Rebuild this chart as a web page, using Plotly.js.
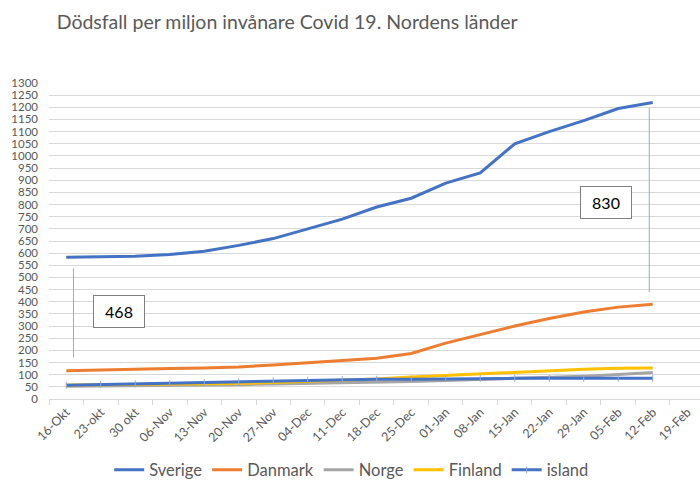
<!DOCTYPE html>
<html>
<head>
<meta charset="utf-8">
<script src="https://cdn.plot.ly/plotly-3.0.1.min.js"></script>
<style>html,body{margin:0;padding:0;background:#fff}#chart{width:700px;height:492px}</style>
</head>
<body>
<div id="chart"></div>
<script>
const categories = ["16-Okt","23-okt","30 okt","06-Nov","13-Nov","20-Nov","27-Nov","04-Dec","11-Dec","18-Dec","25-Dec","01-Jan","08-Jan","15-Jan","22-Jan","29-Jan","05-Feb","12-Feb","19-Feb"];
const sverige = [583,585,587,594,608,632,660,700,740,790,826,888,930,1050,1100,1145,1195,1220];
const danmark = [116,118,122,125,128,132,140,148,158,168,187,230,266,300,331,358,378,390];
const norge   = [52,53,54,55,57,59,62,64,66,68,72,76,80,83,88,94,101,109];
const finland = [58,59,60,61,62,64,68,72,77,82,91,97,105,110,118,122,126,128];
const island  = [57,60,62,64,67,70,74,77,80,81,81,83,85,85,85,85,85,85];
const noteLeft = {label:"468", x:1.54, y:358, lineX:0.21, y0:172, y1:537};
const noteRight = {label:"830", x:15.65, y:810, lineX:16.9, y0:440, y1:1198};

const font = "Lato, 'Noto Sans', sans-serif";
const gray = "#595959";
const xs = categories.slice(0, sverige.length);

function tr(name, y, color, extra) {
  return Object.assign({type:"scatter", mode:"lines", name:name, x:xs, y:y,
    line:{color:color, width:3}}, extra || {});
}
const data = [
  tr("Sverige", sverige, "#4472C4"),
  tr("Danmark", danmark, "#ED7D31"),
  tr("Norge", norge, "#A5A5A5"),
  tr("Finland", finland, "#FFC000"),
  tr("island", island, "#4472C4", {mode:"lines+markers", marker:{symbol:"line-ns", size:5, color:"#8FAADC", line:{color:"#8FAADC", width:1}}})
];

function box(n) {
  return {x:n.x, y:n.y, xref:"x", yref:"y", text:n.label, showarrow:false,
    font:{family:font, size:16, color:"#000"}, bordercolor:"#7f7f7f", borderwidth:1,
    bgcolor:"#fff", width:48, height:29};
}
const layout = {
  width:700, height:492,
  margin:{l:49, r:0, t:83, b:93},
  paper_bgcolor:"#fff", plot_bgcolor:"#fff",
  title:{text:"Dödsfall per miljon invånare Covid 19. Nordens länder", xref:"container", yref:"container",
    x:0.081, xanchor:"left", y:0.955, yanchor:"middle", font:{family:font, size:19.5, color:gray}},
  xaxis:{type:"category", categoryorder:"array", categoryarray:categories, range:[-0.5, 18.37],
    tickmode:"array", tickvals:categories, ticktext:categories,
    tickangle:-45, tickson:"boundaries", ticks:"outside", ticklen:5, tickcolor:"#d9d9d9",
    showline:true, linecolor:"#d9d9d9", showgrid:false, zeroline:false,
    tickfont:{family:font, size:12.5, color:gray}, fixedrange:true},
  yaxis:{range:[0,1300], dtick:50, tick0:0, showgrid:true, gridcolor:"#d9d9d9", gridwidth:1,
    zeroline:false, showline:false, ticks:"", ticklabelstandoff:10,
    tickfont:{family:font, size:11.5, color:gray}, fixedrange:true},
  showlegend:true,
  legend:{orientation:"h", x:0.465, xanchor:"center", y:-0.225, yanchor:"middle",
    font:{family:font, size:16.5, color:gray}, itemwidth:30, bgcolor:"rgba(0,0,0,0)"},
  shapes:[
    {type:"line", xref:"x", yref:"y", x0:noteLeft.lineX, x1:noteLeft.lineX, y0:noteLeft.y0, y1:noteLeft.y1, line:{color:"#8FAADC", width:1}},
    {type:"line", xref:"x", yref:"y", x0:noteRight.lineX, x1:noteRight.lineX, y0:noteRight.y0, y1:noteRight.y1, line:{color:"#8FAADC", width:1}}
  ],
  annotations:[box(noteLeft), box(noteRight)]
};
Plotly.newPlot("chart", data, layout, {displayModeBar:false, staticPlot:true});
</script>
</body>
</html>
